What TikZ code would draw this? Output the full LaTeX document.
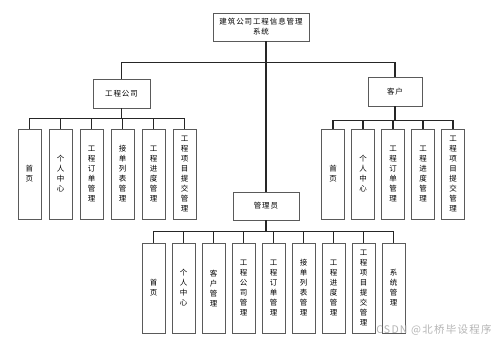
\documentclass[tikz,border=0pt]{standalone}
\usepackage{fontspec}
\setmainfont{Noto Sans CJK SC}[LetterSpace=12]
\usetikzlibrary{positioning}
\definecolor{boxgray}{HTML}{5A5A5A}
\definecolor{markgray}{HTML}{B4B4B4}

\begin{document}
\begin{tikzpicture}[x=1pt,y=-1pt,font=\fontsize{7.5}{10}\selectfont,
  box/.style={draw=boxgray,line width=.9pt,fill=white,inner sep=0pt,align=center},
  leaf/.style={box,minimum width=23pt,minimum height=90pt},
  link/.style={line width=1.1pt,draw=black!85}]
\useasboundingbox (0,0) rectangle (499,345);
\node[box,minimum width=96pt,minimum height=28pt] (sys) at (261,27) {建筑公司工程信息管理\\系统};
\node[box,minimum width=57pt,minimum height=29pt] (firm) at (121.5,93.5) {工程公司};
\node[box,minimum width=54pt,minimum height=29pt] (cust) at (395,91.5) {客户};
\node[box,minimum width=66pt,minimum height=28pt] (admin) at (266,206) {管理员};
% leaves of each branch
\foreach \t [count=\i from 0] in {{首\\页},{个\\人\\中\\心},{工\\程\\订\\单\\管\\理},{接\\单\\列\\表\\管\\理},{工\\程\\进\\度\\管\\理},{工\\程\\项\\目\\提\\交\\管\\理}}
  \node[leaf] (f\i) at (29.5+31*\i,174) {\t};
\foreach \t [count=\i from 0] in {{首\\页},{个\\人\\中\\心},{工\\程\\订\\单\\管\\理},{工\\程\\进\\度\\管\\理},{工\\程\\项\\目\\提\\交\\管\\理}}
  \node[leaf] (c\i) at (333+30*\i,174) {\t};
\foreach \t [count=\i from 0] in {{首\\页},{个\\人\\中\\心},{客\\户\\管\\理},{工\\程\\公\\司\\管\\理},{工\\程\\订\\单\\管\\理},{接\\单\\列\\表\\管\\理},{工\\程\\进\\度\\管\\理},{工\\程\\项\\目\\提\\交\\管\\理},{系\\统\\管\\理}}
  \node[leaf] (a\i) at (153.5+30*\i,288) {\t};
% connectors
\draw[link] (sys.south -| admin.north) -- (admin.north);
\draw[link] (sys.south -| admin.north) -- ++(0,21) -| (firm.north);
\draw[link] (sys.south -| admin.north) -- ++(0,21) -| (cust.north);
\foreach \i in {0,...,5}{\draw[link] (firm.south) -- ++(0,10.5) -| (f\i.north);}
\foreach \i in {0,...,4}{\draw[link] (cust.south) -- ++(0,14.5) -| (c\i.north);}
\foreach \i in {0,...,8}{\draw[link] (admin.south) -- ++(0,11) -| (a\i.north);}
\node[text=markgray,font=\fontsize{10.5}{12}\selectfont,inner sep=0pt] (mark) at (434,330) {CSDN @北桥毕设程序};
\end{tikzpicture}
\end{document}
